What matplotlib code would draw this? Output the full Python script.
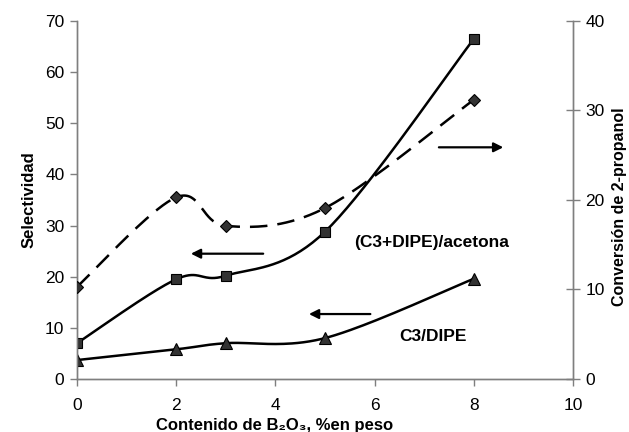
import numpy as np
import matplotlib
matplotlib.use("Agg")
import matplotlib.pyplot as plt

plt.rcParams['font.family'] = ['Liberation Sans', 'DejaVu Sans']

# B2O3 content (% by weight)
boron = [0, 2, 3, 5, 8]
# Selectivities (left axis)
sel_c3dipe_acetona = [7.0, 19.5, 20.2, 28.8, 66.5]
sel_c3_dipe = [3.7, 5.8, 7.0, 8.0, 19.6]
# Conversion of 2-propanol (right axis)
conversion = [10.3, 20.3, 17.1, 19.1, 31.2]

x_ticks = [0, 2, 4, 6, 8, 10]
y_left_ticks = [0, 10, 20, 30, 40, 50, 60, 70]
y_right_ticks = [0, 10, 20, 30, 40]


def smooth(xs, ys, n=40):
    """Piecewise cubic Bezier through the points (Catmull-Rom style tangents)."""
    p = np.column_stack([xs, ys]).astype(float)
    out = []
    for i in range(len(p) - 1):
        p0 = p[i - 1] if i > 0 else p[i]
        p1, p2 = p[i], p[i + 1]
        p3 = p[i + 2] if i + 2 < len(p) else p[i + 1]
        c1 = p1 + (p2 - p0) / 6.0
        c2 = p2 - (p3 - p1) / 6.0
        t = np.linspace(0, 1, n)[:, None]
        seg = ((1 - t) ** 3) * p1 + 3 * ((1 - t) ** 2) * t * c1 + 3 * (1 - t) * t ** 2 * c2 + t ** 3 * p2
        out.append(seg if i == 0 else seg[1:])
    s = np.vstack(out)
    return s[:, 0], s[:, 1]


fig = plt.figure(figsize=(6.29, 4.32), dpi=100)
ax = fig.add_axes([0.1224, 0.1227, 0.7886, 0.8287])
ax2 = ax.twinx()

spine_col = '#7f7f7f'
mcol = '#333333'

# Left axis series
sx, sy = smooth(boron, sel_c3dipe_acetona)
ax.plot(sx, sy, color='black', lw=1.8, zorder=3)
ax.plot(boron, sel_c3dipe_acetona, ls='none', marker='s', ms=7,
        mfc=mcol, mec='black', mew=0.8, zorder=4)

sx, sy = smooth(boron, sel_c3_dipe)
ax.plot(sx, sy, color='black', lw=1.8, zorder=3)
ax.plot(boron, sel_c3_dipe, ls='none', marker='^', ms=8.5,
        mfc=mcol, mec='black', mew=0.8, zorder=4)

# Right axis series
sx, sy = smooth(boron, conversion)
ax2.plot(sx, sy, color='black', lw=1.8, ls=(0, (7, 4)), zorder=3)
ax2.plot(boron, conversion, ls='none', marker='D', ms=6.5,
         mfc=mcol, mec='black', mew=0.8, zorder=4)

ax.set_xlim(0, 10)
ax.set_ylim(0, 70)
ax2.set_ylim(0, 40)
ax.set_xticks(x_ticks)
ax.set_yticks(y_left_ticks)
ax2.set_yticks(y_right_ticks)

for a in (ax, ax2):
    a.spines['top'].set_visible(False)
    for s in ('left', 'right', 'bottom'):
        a.spines[s].set_color(spine_col)
        a.spines[s].set_linewidth(1.0)

ax.tick_params(axis='both', direction='out', length=5, width=1, color=spine_col,
               labelsize=12.5, pad=4)
ax2.tick_params(axis='y', direction='inout', length=10, width=1, color=spine_col,
                labelsize=12.5, pad=4)
ax.tick_params(axis='x', pad=9)

ax.set_ylabel('Selectividad', fontsize=12, fontweight='bold', labelpad=6)
ax2.set_ylabel('Conversión de 2-propanol', fontsize=11.5, fontweight='bold',
               rotation=90, labelpad=4)
ax2.yaxis.set_label_coords(1.078, 0.48)
fig.text(0.437, 0.004, 'Contenido de B₂O₃, %en peso', ha='center',
         va='baseline', fontsize=12, fontweight='bold')

# Arrows pointing to the axis each curve belongs to
arrow = dict(arrowstyle='-|>', color='black', lw=1.6, mutation_scale=14)
ax.annotate('', xy=(2.24, 24.5), xytext=(3.81, 24.5), arrowprops=arrow)
ax.annotate('', xy=(4.62, 12.7), xytext=(5.97, 12.7), arrowprops=arrow)
ax.annotate('', xy=(8.65, 45.3), xytext=(7.24, 45.3), arrowprops=arrow)

ax.text(7.15, 26.6, '(C3+DIPE)/acetona', ha='center', va='center',
        fontsize=12.5, fontweight='bold')
ax.text(7.17, 8.3, 'C3/DIPE', ha='center', va='center',
        fontsize=12.5, fontweight='bold')

fig.savefig('out.png', dpi=100)
